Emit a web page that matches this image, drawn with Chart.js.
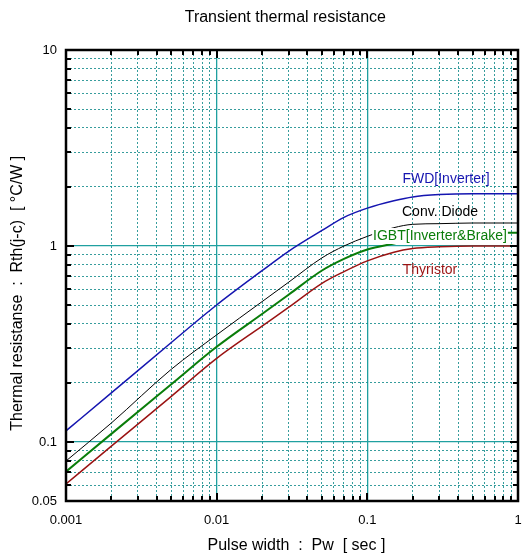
<!DOCTYPE html>
<html>
<head>
<meta charset="utf-8">
<script src="https://cdn.jsdelivr.net/npm/chart.js@4/dist/chart.umd.min.js"></script>
<style>
  html, body { margin: 0; padding: 0; background: #fff; }
  #wrap { width: 524px; height: 555px; }
</style>
</head>
<body>
<div id="wrap"><canvas id="rthChart"></canvas></div>
<script>
// pulse width [sec]
const pulseWidth = [0.001, 0.002, 0.005, 0.01, 0.02, 0.03, 0.05, 0.07, 0.1, 0.15, 0.2, 0.3, 0.5, 0.7, 1]

// Rth(j-c) [°C/W]
const fwdInverter = [0.114, 0.178, 0.322, 0.50, 0.748, 0.94, 1.20, 1.40, 1.56, 1.70, 1.78, 1.83, 1.85, 1.85, 1.85]
const convDiode   = [0.080, 0.125, 0.235, 0.352, 0.52, 0.653, 0.87, 1.00, 1.12, 1.24, 1.29, 1.30, 1.31, 1.31, 1.31]
const igbt        = [0.0706, 0.110, 0.197, 0.306, 0.45, 0.564, 0.75, 0.86, 0.96, 1.03, 1.08, 1.13, 1.16, 1.17, 1.17]
const thyristor   = [0.0611, 0.0953, 0.171, 0.267, 0.39, 0.486, 0.645, 0.74, 0.84, 0.93, 0.97, 0.99, 1.00, 1.00, 1.00]

const xTickLabels = [0.001, 0.01, 0.1, 1]
const yTickLabels = [0.05, 0.1, 1, 10]

const series = [
  { name: 'FWD[Inverter]', values: fwdInverter, color: '#1515b0', width: 1.5, label: [446, 179] },
  { name: 'Conv. Diode', values: convDiode, color: '#000000', width: 1, label: [440, 212] },
  { name: 'IGBT[Inverter&Brake]', values: igbt, color: '#0a7d0a', width: 2, label: [440, 236], box: true },
  { name: 'Thyristor', values: thyristor, color: '#9a1212', width: 1.5, label: [430, 270] }
]

const teal = '#20a0a0'
const tealDot = 'rgba(20,140,140,0.85)'
const font = '"Liberation Sans", Arial, sans-serif'
const isDecade = (v) => Math.abs(Math.log10(v) - Math.round(Math.log10(v))) < 1e-6

function logTicks(min, max) {
  const out = []
  for (let e = -4; e <= 2; e++) {
    for (let m = 1; m <= 9; m++) {
      const v = +(m * Math.pow(10, e)).toPrecision(6)
      if (v >= min - 1e-9 && v <= max + 1e-9) out.push({ value: v })
    }
  }
  return out
}

// frame, inward tick marks and curve labels
const framePlugin = {
  id: 'frame',
  afterDraw(chart) {
    const { ctx, chartArea: a, scales } = chart
    ctx.save()
    ctx.strokeStyle = '#000'
    ctx.lineWidth = 2
    scales.x.ticks.forEach(t => {
      const px = Math.round(scales.x.getPixelForValue(t.value))
      const len = isDecade(t.value) ? 8 : 5
      ctx.beginPath()
      ctx.moveTo(px, a.bottom); ctx.lineTo(px, a.bottom - len)
      ctx.moveTo(px, a.top); ctx.lineTo(px, a.top + len)
      ctx.stroke()
    })
    scales.y.ticks.forEach(t => {
      const py = Math.round(scales.y.getPixelForValue(t.value))
      const len = isDecade(t.value) ? 8 : 5
      ctx.beginPath()
      ctx.moveTo(a.left, py); ctx.lineTo(a.left + len, py)
      ctx.moveTo(a.right, py); ctx.lineTo(a.right - len, py)
      ctx.stroke()
    })
    ctx.lineWidth = 2.5
    ctx.strokeRect(a.left, a.top, a.right - a.left, a.bottom - a.top)

    ctx.font = '14px ' + font
    ctx.textAlign = 'center'
    ctx.textBaseline = 'middle'
    series.forEach(s => {
      const [lx, ly] = s.label
      if (s.box) {
        const w = ctx.measureText(s.name).width
        ctx.fillStyle = '#fff'
        ctx.fillRect(lx - w / 2 - 1, ly - 8, w + 2, 16)
      }
      ctx.fillStyle = s.color
      ctx.fillText(s.name, lx, ly)
    })
    ctx.restore()
  }
}

new Chart(document.getElementById('rthChart'), {
  type: 'line',
  data: {
    datasets: series.map(s => ({
      label: s.name,
      data: pulseWidth.map((x, i) => ({ x: x, y: s.values[i] })),
      borderColor: s.color,
      borderWidth: s.width,
      pointRadius: 0,
      fill: false,
      cubicInterpolationMode: 'monotone'
    }))
  },
  options: {
    responsive: true,
    maintainAspectRatio: false,
    animation: false,
    layout: { padding: { left: 0, right: 6, top: 0, bottom: 0 } },
    plugins: {
      legend: { display: false },
      tooltip: { enabled: false },
      title: {
        display: true,
        fullSize: false,
        text: 'Transient thermal resistance   ',
        color: '#000',
        font: { family: font, size: 16, weight: 'normal' },
        padding: { top: 8, bottom: 22.8 }
      }
    },
    scales: {
      x: {
        type: 'logarithmic',
        min: 0.001,
        max: 1,
        afterBuildTicks: (scale) => { scale.ticks = logTicks(0.001, 1) },
        afterFit: (scale) => { scale.height = 54; scale.paddingLeft = 0; scale.paddingRight = 0 },
        border: { display: false, dash: (ctx) => isDecade(ctx.tick.value) ? [] : [2, 2] },
        grid: {
          drawTicks: false,
          color: (ctx) => isDecade(ctx.tick.value) ? teal : tealDot,
          lineWidth: (ctx) => isDecade(ctx.tick.value) ? 1.3 : 1
        },
        ticks: {
          autoSkip: false,
          maxRotation: 0,
          padding: 12,
          color: '#000',
          font: { family: font, size: 13 },
          callback: (v) => xTickLabels.some(t => Math.abs(t - v) < 1e-9) ? String(v) : ''
        },
        title: {
          display: true,
          text: '  Pulse width  :  Pw  [ sec ]',
          color: '#000',
          font: { family: font, size: 16 },
          padding: { top: 0, bottom: 0 }
        }
      },
      y: {
        type: 'logarithmic',
        min: 0.05,
        max: 10,
        afterBuildTicks: (scale) => { scale.ticks = logTicks(0.05, 10) },
        afterFit: (scale) => { scale.width = 66 },
        border: { display: false, dash: (ctx) => isDecade(ctx.tick.value) ? [] : [2, 2] },
        grid: {
          drawTicks: false,
          color: (ctx) => isDecade(ctx.tick.value) ? teal : tealDot,
          lineWidth: (ctx) => isDecade(ctx.tick.value) ? 1.3 : 1
        },
        ticks: {
          autoSkip: false,
          padding: 9,
          color: '#000',
          font: { family: font, size: 13 },
          callback: (v) => yTickLabels.some(t => Math.abs(t - v) < 1e-9) ? String(v) : ''
        },
        title: {
          display: true,
          text: 'Thermal resistanse  :  Rth(j-c)  [ °C/W ]        ',
          color: '#000',
          font: { family: font, size: 16 },
          padding: { top: 8, bottom: 0 }
        }
      }
    }
  },
  plugins: [framePlugin]
})
</script>
</body>
</html>
